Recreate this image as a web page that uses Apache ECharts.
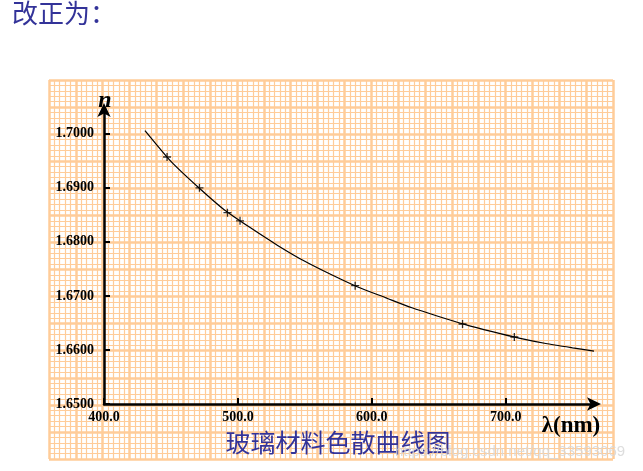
<!DOCTYPE html>
<html>
<head>
<meta charset="utf-8">
<script src="https://cdn.jsdelivr.net/npm/echarts@6/dist/echarts.min.js"></script>
<style>html,body{margin:0;padding:0;background:#fff}#c{width:643px;height:471px}</style>
</head>
<body>
<div id="c"></div>
<script>
// Measured points (helium lines)
const wavelengths = [447.1, 471.3, 492.2, 501.6, 587.6, 667.8, 706.5];
const indices = [1.6957, 1.6900, 1.6854, 1.6839, 1.6719, 1.6648, 1.6624];
// Fitted curve
const curveX = [430.6, 450, 470, 490, 510, 530, 550, 570, 590, 610, 630, 650, 670, 690, 710, 730, 750, 766];
const curveN = [1.7006, 1.6949, 1.6902, 1.6859, 1.6825, 1.6793, 1.6764, 1.6739, 1.6716, 1.6697, 1.6678, 1.6662, 1.6647, 1.6634, 1.6622, 1.6612, 1.6604, 1.6598];
const xTicks = [400, 500, 600, 700];
const yTicks = [1.65, 1.66, 1.67, 1.68, 1.69, 1.70];

const chart = echarts.init(document.getElementById('c'));
const paper = '#FFCC99';
const serif = 'Liberation Serif';
chart.setOption({
  animation: false,
  backgroundColor: '#fff',
  grid: [
    {left: 49, top: 80, width: 564, height: 379},
    {left: 104, top: 110, width: 490, height: 294}
  ],
  xAxis: [
    {gridIndex: 0, type: 'value', min: 0, max: 21, interval: 1,
     axisLine: {show: false}, axisTick: {show: false}, axisLabel: {show: false},
     splitLine: {show: true, lineStyle: {color: paper, width: 2.5}},
     minorTick: {show: false, splitNumber: 5},
     minorSplitLine: {show: true, lineStyle: {color: paper, width: 1.2}}},
    {gridIndex: 1, type: 'value', min: 400, max: 766, interval: 100,
     axisLine: {show: true, onZero: false, lineStyle: {color: '#000', width: 2.5},
       symbol: ['none', 'arrow'], symbolSize: [10, 14], symbolOffset: [0, 7]},
     axisTick: {show: true, inside: true, length: 6, lineStyle: {color: '#000', width: 2}},
     axisLabel: {show: true, margin: 6, showMaxLabel: false, fontFamily: serif, fontWeight: 'bold', fontSize: 14, color: '#000',
       formatter: v => v.toFixed(1)},
     splitLine: {show: false}}
  ],
  yAxis: [
    {gridIndex: 0, type: 'value', min: 0, max: 14, interval: 1,
     axisLine: {show: false}, axisTick: {show: false}, axisLabel: {show: false},
     splitLine: {show: true, lineStyle: {color: paper, width: 2.5}},
     minorTick: {show: false, splitNumber: 5},
     minorSplitLine: {show: true, lineStyle: {color: paper, width: 1.2}}},
    {gridIndex: 1, type: 'value', min: 1.65, max: 1.7044, interval: 0.01,
     axisLine: {show: true, onZero: false, lineStyle: {color: '#000', width: 2.5},
       symbol: ['none', 'arrow'], symbolSize: [10, 14], symbolOffset: [0, 7]},
     axisTick: {show: true, inside: true, length: 6, lineStyle: {color: '#000', width: 2}},
     axisLabel: {show: true, margin: 10, showMaxLabel: false, fontFamily: serif, fontWeight: 'bold', fontSize: 14, color: '#000',
       formatter: v => v.toFixed(4)},
     splitLine: {show: false}}
  ],
  series: [
    {type: 'line', xAxisIndex: 1, yAxisIndex: 1, smooth: 0.2, showSymbol: false,
     lineStyle: {color: '#000', width: 1.2},
     data: curveX.map((x, i) => [x, curveN[i]])},
    {type: 'scatter', xAxisIndex: 1, yAxisIndex: 1,
     symbol: 'path://M5,0L5,10M0,5L10,5', symbolSize: 8,
     itemStyle: {color: 'none', borderColor: '#000', borderWidth: 1.3},
     data: wavelengths.map((x, i) => [x, indices[i]])}
  ],
  graphic: [
    {type: 'text', left: 12, top: 0, z: 100, style: {text: '改正为：', fontFamily: 'Noto Sans CJK SC', fontSize: 26, fill: '#333399'}},
    {type: 'text', x: 105, y: 101, z: 100, style: {text: 'n', fontFamily: serif, fontStyle: 'italic', fontWeight: 'bold', fontSize: 24, fill: '#000', align: 'center', verticalAlign: 'middle'}},
    {type: 'text', x: 571, y: 426, z: 100, style: {text: 'λ(nm)', fontFamily: serif, fontWeight: 'bold', fontSize: 23, fill: '#000', align: 'center', verticalAlign: 'middle'}},
    {type: 'text', x: 338, y: 442, z: 100, style: {text: '玻璃材料色散曲线图', fontFamily: 'Noto Sans CJK SC', fontSize: 25, fill: '#333399', align: 'center', verticalAlign: 'middle'}},
    {type: 'text', x: 510, y: 452, z: 101, style: {text: 'https://blog.csdn.net/qq_33593069', fontFamily: 'Liberation Sans', fontSize: 15, fill: 'rgba(215,215,215,0.85)', align: 'center', verticalAlign: 'middle'}}
  ]
});
</script>
</body>
</html>
